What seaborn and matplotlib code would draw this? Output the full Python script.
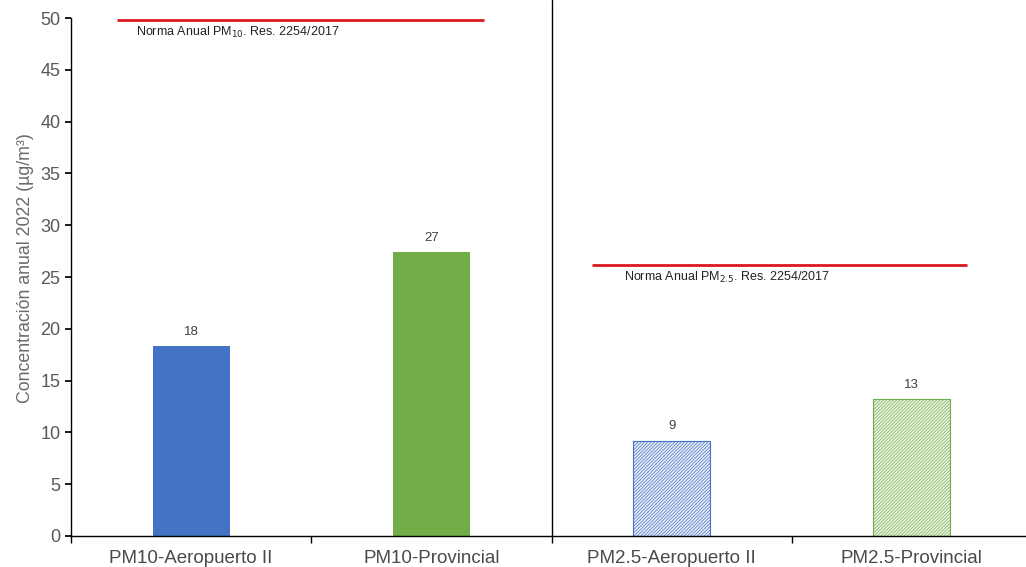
import matplotlib
matplotlib.use("Agg")
import matplotlib.pyplot as plt
import seaborn as sns
import numpy as np

# Data
stations = ['PM10-Aeropuerto II', 'PM10-Provincial', 'PM2.5-Aeropuerto II', 'PM2.5-Provincial']
concentration = [18.3, 27.4, 9.2, 13.2]
bar_labels = ['18', '27', '9', '13']
bar_colors = ['#4472C4', '#70AD47', '#4472C4', '#70AD47']
norm_pm10 = 49.8
norm_pm25 = 26.2

sns.set_theme(style='white')
plt.rcParams['font.family'] = ['Liberation Sans', 'DejaVu Sans']
plt.rcParams['hatch.linewidth'] = 0.5

fig = plt.figure(figsize=(10.26, 5.67), dpi=100)
ax = fig.add_axes([71 / 1026, 31 / 567, 961 / 1026, 536 / 567])

sns.barplot(x=stations, y=concentration, hue=stations, palette=bar_colors,
            width=0.32, legend=False, ax=ax, saturation=1)

for patch in ax.patches[:2]:
    patch.set_linewidth(0)

# PM2.5 bars: hatched, light fill
fills = ['#E8EEF8', '#EEF5E6']
for patch, fc, ec in zip(ax.patches[2:], fills, bar_colors[2:]):
    patch.set_facecolor(fc)
    patch.set_edgecolor(ec)
    patch.set_hatch('//////////')
    patch.set_linewidth(0.8)

for i, (v, lab) in enumerate(zip(concentration, bar_labels)):
    ax.text(i, v + 0.8, lab, ha='center', va='bottom', fontsize=9.5, color='#404040')

# Normative lines
ax.hlines(norm_pm10, -0.31, 1.22, color='#D9181F', lw=2)
ax.hlines(norm_pm25, 1.67, 3.23, color='#D9181F', lw=2)
ax.text(-0.23, norm_pm10 - 0.5, 'Norma Anual PM$_{10}$. Res. 2254/2017',
        fontsize=9, va='top', ha='left', color='#222222')
ax.text(1.80, norm_pm25 - 0.5, 'Norma Anual PM$_{2.5}$. Res. 2254/2017',
        fontsize=9, va='top', ha='left', color='#222222')

# Separator between PM10 and PM2.5
ax.axvline(1.5, color='black', lw=1)

ax.set_xlim(-0.5, 3.5)
ax.set_ylim(0, 51.75)
ax.set_yticks(np.arange(0, 51, 5))
ax.spines['left'].set_bounds(0, 50)
for s in ['top', 'right']:
    ax.spines[s].set_visible(False)
for s in ['left', 'bottom']:
    ax.spines[s].set_color('black')
    ax.spines[s].set_linewidth(1)

ax.set_xticks(np.arange(4))
ax.set_xticklabels(stations, fontsize=13.5, color='#4a4a4a')
ax.set_xticks(np.arange(-0.5, 3.6, 1), minor=True)
ax.tick_params(axis='x', which='major', length=0, pad=10)
ax.tick_params(axis='x', which='minor', length=5, direction='out', color='black', bottom=True)
ax.tick_params(axis='y', length=4, direction='out', color='black', labelsize=13,
               labelcolor='#595959', left=True)
ax.set_ylabel('Concentración anual 2022 (µg/m³)', fontsize=12.8, color='#6a6a6a', labelpad=5)
ax.set_xlabel('')

fig.savefig('out.png', dpi=100)
